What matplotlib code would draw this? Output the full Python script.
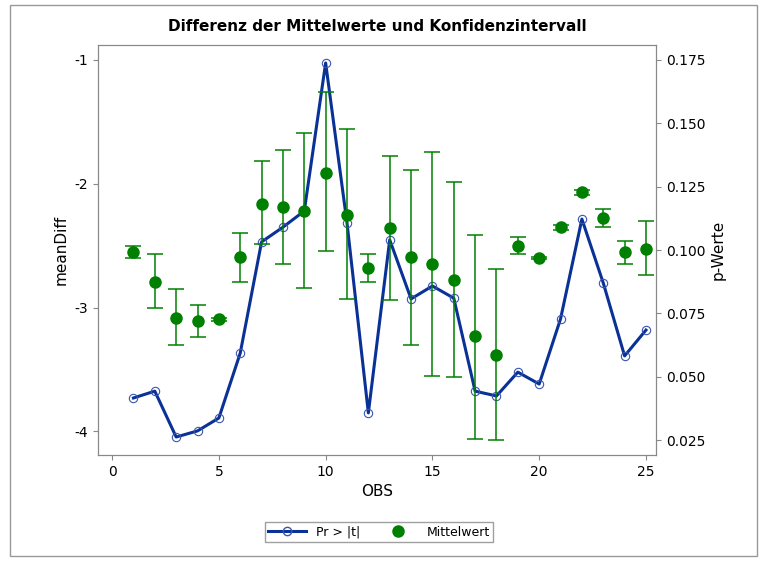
import matplotlib
matplotlib.use("Agg")
from matplotlib import pyplot as plt
from matplotlib.patches import Rectangle
from matplotlib.lines import Line2D
import numpy as np

# Daten
obs = list(range(1, 26))
mean_diff = [-2.55, -2.79, -3.08, -3.11, -3.09, -2.59, -2.16, -2.19, -2.22, -1.91,
             -2.25, -2.68, -2.36, -2.59, -2.65, -2.78, -3.23, -3.38, -2.50, -2.60,
             -2.35, -2.07, -2.28, -2.55, -2.53]
upper = [-2.50, -2.57, -2.85, -2.98, -3.08, -2.40, -1.82, -1.73, -1.59, -1.26,
         -1.56, -2.57, -1.78, -1.89, -1.74, -1.99, -2.41, -2.69, -2.43, -2.59,
         -2.33, -2.05, -2.20, -2.46, -2.30]
lower = [-2.60, -3.00, -3.30, -3.24, -3.11, -2.79, -2.49, -2.65, -2.84, -2.54,
         -2.93, -2.79, -2.94, -3.30, -3.55, -3.56, -4.06, -4.07, -2.57, -2.61,
         -2.37, -2.09, -2.35, -2.65, -2.74]
p_values = [0.0416, 0.0443, 0.0262, 0.0286, 0.0337, 0.0593, 0.1032, 0.1090, 0.1154, 0.1738,
            0.1107, 0.0357, 0.1040, 0.0807, 0.0858, 0.0810, 0.0443, 0.0424, 0.0518, 0.0471,
            0.0728, 0.1122, 0.0870, 0.0582, 0.0684]

mean_diff = np.array(mean_diff)
yerr = [mean_diff - np.array(lower), np.array(upper) - mean_diff]

fig = plt.figure(figsize=(7.66, 5.67), dpi=100)
fig.patches.append(Rectangle((10/766, 11/567), 747/766, 551/567, transform=fig.transFigure,
                             fill=False, edgecolor="#999999", linewidth=1))
ax = fig.add_axes([98/766, 112/567, 558/766, 410/567])
ax2 = ax.twinx()

ax.errorbar(obs, mean_diff, yerr=yerr, fmt="none", ecolor="#008000", elinewidth=1.1, capsize=5.5, capthick=1.1, zorder=2)
ax.plot(obs, mean_diff, "o", color="#008000", markersize=8, zorder=3)
ax2.plot(obs, p_values, "-o", color="#0a3296", linewidth=2.2, markersize=6,
         markerfacecolor="none", markeredgecolor="#3a56b0", markeredgewidth=0.8)
ax.set_zorder(ax2.get_zorder() + 1)
ax.patch.set_visible(False)

ax.set_xlim(-0.66, 25.47)
ax.set_ylim(-4.19, -0.88)
ax2.set_ylim(0.0191, 0.1809)
ax.set_xticks([0, 5, 10, 15, 20, 25])
ax.set_yticks([-4, -3, -2, -1])
ax.set_yticklabels(["-4", "-3", "-2", "-1"])
ax2.set_yticks([0.025, 0.05, 0.075, 0.1, 0.125, 0.15, 0.175])
ax2.set_yticklabels(["0.025", "0.050", "0.075", "0.100", "0.125", "0.150", "0.175"])
for a in (ax, ax2):
    for s in a.spines.values():
        s.set_color("#888888")
    a.tick_params(colors="#888888", labelcolor="black", labelsize=10)

ax.set_xlabel("OBS", fontsize=11)
ax.set_ylabel("meanDiff", fontsize=11)
ax2.set_ylabel("p-Werte", fontsize=11)
ax.set_title("Differenz der Mittelwerte und Konfidenzintervall", fontsize=11, fontweight="bold", pad=10)

h1 = Line2D([], [], color="#0a3296", linewidth=2.2, marker="o", markerfacecolor="none", markeredgecolor="#3a56b0")
h2 = Line2D([], [], color="#008000", linestyle="none", marker="o", markersize=8)
fig.legend([h1, h2], ["Pr > |t|", "Mittelwert"], loc="center", bbox_to_anchor=(379/766, 1 - 532/567),
           ncol=2, frameon=True, fancybox=False, edgecolor="#888888", fontsize=9,
           handlelength=3, columnspacing=1.5, borderpad=0.3)

fig.savefig("out.png", dpi=100)
